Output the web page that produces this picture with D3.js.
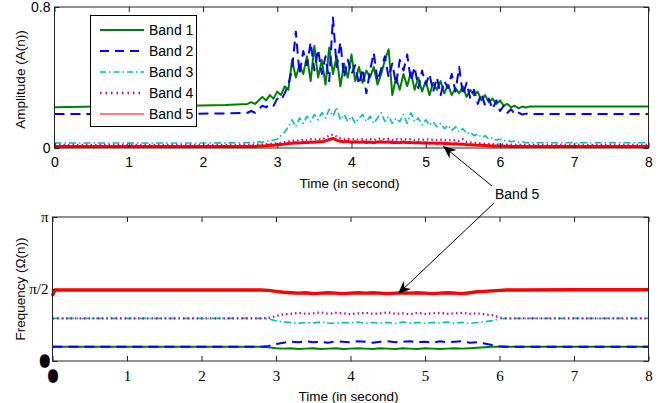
<!DOCTYPE html>
<html>
<head>
<meta charset="utf-8">
<script src="https://cdn.jsdelivr.net/npm/d3@7"></script>
<style>
  html, body { margin: 0; padding: 0; background: #fff; }
  svg { display: block; }
</style>
</head>
<body>
<svg id="chart"></svg>
<script>
const width = 665;
const height = 403;

// band names, colours and dash patterns
const bands = ["Band 1", "Band 2", "Band 3", "Band 4", "Band 5"];
const colors = ["#008000", "#0000ff", "#00bfbf", "#bf00bf", "#ff0000"];

// ---- amplitude panel ----
const tPre = [0, 0.6, 1.2, 1.8, 2.3];
const tPost = [6.6, 7, 7.5, 8];
const tBurst = [
  2.60, 2.65, 2.70, 2.75, 2.80, 2.85, 2.90, 2.95, 3.00, 3.05,
  3.10, 3.15, 3.20, 3.25, 3.30, 3.35, 3.40, 3.45, 3.50, 3.55,
  3.60, 3.65, 3.70, 3.75, 3.80, 3.85, 3.90, 3.95, 4.00, 4.05,
  4.10, 4.15, 4.20, 4.25, 4.30, 4.35, 4.40, 4.45, 4.50, 4.55,
  4.60, 4.65, 4.70, 4.75, 4.80, 4.85, 4.90, 4.95, 5.00, 5.05,
  5.10, 5.15, 5.20, 5.25, 5.30, 5.35, 5.40, 5.45, 5.50, 5.55,
  5.60, 5.65, 5.70, 5.75, 5.80, 5.85, 5.90, 5.95, 6.00, 6.05,
  6.10, 6.15, 6.20, 6.25, 6.30, 6.35, 6.40];

const amp1 = [0.231, 0.236, 0.238, 0.240, 0.244,
  0.25, 0.26, 0.25, 0.27, 0.29, 0.27, 0.30, 0.28, 0.32, 0.30,
  0.35, 0.33, 0.50, 0.40, 0.47, 0.42, 0.52, 0.38, 0.58, 0.40,
  0.50, 0.36, 0.57, 0.42, 0.52, 0.35, 0.48, 0.40, 0.53, 0.38,
  0.46, 0.37, 0.44, 0.40, 0.46, 0.36, 0.42, 0.50, 0.56, 0.30,
  0.40, 0.33, 0.42, 0.35, 0.43, 0.33, 0.40, 0.32, 0.38, 0.30,
  0.37, 0.33, 0.38, 0.31, 0.36, 0.30, 0.34, 0.31, 0.35, 0.29,
  0.33, 0.30, 0.32, 0.27, 0.30, 0.26, 0.28, 0.25, 0.27, 0.24,
  0.25, 0.23, 0.24, 0.225, 0.235, 0.23, 0.235,
  0.235, 0.236, 0.235, 0.235];
const amp2 = [0.193, 0.193, 0.193, 0.194, 0.196,
  0.20, 0.21, 0.20, 0.22, 0.24, 0.23, 0.25, 0.24, 0.28, 0.27,
  0.31, 0.36, 0.45, 0.66, 0.42, 0.55, 0.47, 0.60, 0.44, 0.56,
  0.42, 0.52, 0.38, 0.74, 0.46, 0.60, 0.40, 0.50, 0.42, 0.47,
  0.36, 0.45, 0.31, 0.44, 0.54, 0.38, 0.45, 0.52, 0.40, 0.48,
  0.36, 0.50, 0.44, 0.53, 0.38, 0.46, 0.34, 0.44, 0.36, 0.42,
  0.32, 0.40, 0.30, 0.38, 0.34, 0.42, 0.32, 0.46, 0.30, 0.37,
  0.28, 0.33, 0.25, 0.31, 0.24, 0.28, 0.22, 0.27, 0.21, 0.24,
  0.20, 0.22, 0.19, 0.20, 0.19, 0.195, 0.193,
  0.193, 0.193, 0.193, 0.193];
const amp3 = [0.028, 0.028, 0.028, 0.028, 0.029,
  0.030, 0.032, 0.030, 0.035, 0.033, 0.040, 0.038, 0.045, 0.050, 0.070,
  0.090, 0.120, 0.160, 0.120, 0.170, 0.140, 0.180, 0.150, 0.190, 0.160,
  0.200, 0.170, 0.220, 0.180, 0.230, 0.160, 0.190, 0.150, 0.180, 0.140,
  0.170, 0.190, 0.150, 0.180, 0.140, 0.170, 0.200, 0.150, 0.180, 0.140,
  0.170, 0.150, 0.190, 0.140, 0.200, 0.150, 0.170, 0.130, 0.160, 0.130,
  0.150, 0.120, 0.140, 0.110, 0.130, 0.100, 0.120, 0.090, 0.110, 0.080,
  0.090, 0.070, 0.080, 0.060, 0.070, 0.050, 0.060, 0.045, 0.050, 0.040,
  0.045, 0.035, 0.040, 0.032, 0.035, 0.030, 0.030,
  0.030, 0.030, 0.030, 0.030];
const amp4 = [0.018, 0.018, 0.018, 0.018, 0.018,
  0.018, 0.020, 0.019, 0.021, 0.020, 0.022, 0.024, 0.025, 0.028, 0.030,
  0.034, 0.038, 0.040, 0.045, 0.042, 0.048, 0.044, 0.050, 0.046, 0.052,
  0.048, 0.060, 0.070, 0.077, 0.065, 0.055, 0.050, 0.054, 0.048, 0.052,
  0.046, 0.050, 0.047, 0.052, 0.045, 0.050, 0.055, 0.048, 0.052, 0.045,
  0.050, 0.046, 0.052, 0.047, 0.050, 0.044, 0.048, 0.045, 0.050, 0.046,
  0.048, 0.044, 0.047, 0.043, 0.046, 0.042, 0.045, 0.040, 0.050, 0.035,
  0.032, 0.030, 0.028, 0.026, 0.025, 0.024, 0.023, 0.022, 0.021, 0.020,
  0.020, 0.019, 0.019, 0.018, 0.018, 0.018, 0.018,
  0.018, 0.018, 0.018, 0.018];
const amp5 = [0.008, 0.008, 0.008, 0.008, 0.008,
  0.009, 0.010, 0.009, 0.011, 0.012, 0.013, 0.015, 0.016, 0.018, 0.020,
  0.022, 0.025, 0.027, 0.030, 0.028, 0.032, 0.030, 0.034, 0.032, 0.036,
  0.035, 0.040, 0.048, 0.055, 0.045, 0.038, 0.035, 0.038, 0.033, 0.036,
  0.032, 0.035, 0.031, 0.034, 0.030, 0.034, 0.036, 0.032, 0.035, 0.030,
  0.033, 0.030, 0.034, 0.030, 0.032, 0.029, 0.031, 0.028, 0.030, 0.027,
  0.029, 0.026, 0.028, 0.025, 0.026, 0.023, 0.024, 0.021, 0.022, 0.019,
  0.019, 0.017, 0.016, 0.015, 0.014, 0.013, 0.012, 0.011, 0.011, 0.010,
  0.010, 0.009, 0.009, 0.009, 0.008, 0.008, 0.008,
  0.008, 0.008, 0.008, 0.008];

// ---- frequency panel (radians) ----
const fPre = [0, 0.03, 1, 2, 2.8];
const fPost = [6.3, 7, 8];
const fBurst = [
  2.9, 3.0, 3.1, 3.2, 3.3, 3.4, 3.5, 3.6, 3.7, 3.8,
  3.9, 4.0, 4.1, 4.2, 4.3, 4.4, 4.5, 4.6, 4.7, 4.8,
  4.9, 5.0, 5.1, 5.2, 5.3, 5.4, 5.5, 5.6, 5.7, 5.8,
  5.9, 6.0, 6.1];

const frq1 = [0.31, 0.31, 0.31, 0.31, 0.31,
  0.30, 0.28, 0.27, 0.28, 0.26, 0.27, 0.28, 0.26, 0.27, 0.28,
  0.26, 0.27, 0.28, 0.27, 0.26, 0.28, 0.27, 0.26, 0.28, 0.27,
  0.26, 0.28, 0.27, 0.26, 0.27, 0.28, 0.27, 0.28, 0.29, 0.30,
  0.31, 0.31, 0.31,
  0.31, 0.31, 0.31];
const frq2 = [0.31, 0.31, 0.31, 0.31, 0.31,
  0.33, 0.37, 0.40, 0.42, 0.41, 0.43, 0.41, 0.42, 0.40, 0.43,
  0.42, 0.41, 0.43, 0.42, 0.40, 0.42, 0.43, 0.41, 0.42, 0.43,
  0.41, 0.42, 0.40, 0.43, 0.41, 0.42, 0.43, 0.40, 0.41, 0.38,
  0.35, 0.32, 0.31,
  0.31, 0.31, 0.31];
const frq3 = [0.93, 0.93, 0.93, 0.93, 0.93,
  0.92, 0.88, 0.85, 0.84, 0.82, 0.84, 0.83, 0.85, 0.83, 0.82,
  0.84, 0.83, 0.85, 0.82, 0.84, 0.83, 0.84, 0.82, 0.85, 0.83,
  0.84, 0.82, 0.84, 0.83, 0.85, 0.83, 0.84, 0.82, 0.84, 0.86,
  0.88, 0.92, 0.93,
  0.93, 0.93, 0.93];
const frq4 = [0.93, 0.93, 0.93, 0.93, 0.93,
  0.94, 0.98, 1.02, 1.03, 1.05, 1.03, 1.04, 1.06, 1.03, 1.05,
  1.04, 1.02, 1.04, 1.05, 1.03, 1.04, 1.06, 1.03, 1.04, 1.02,
  1.05, 1.03, 1.04, 1.05, 1.03, 1.04, 1.05, 1.03, 1.04, 1.02,
  1.00, 0.95, 0.93,
  0.93, 0.93, 0.93];
const frq5 = [1.42, 1.55, 1.55, 1.55, 1.55,
  1.54, 1.52, 1.50, 1.49, 1.48, 1.49, 1.47, 1.48, 1.49, 1.48,
  1.47, 1.48, 1.49, 1.48, 1.49, 1.48, 1.47, 1.48, 1.49, 1.48,
  1.49, 1.48, 1.47, 1.48, 1.49, 1.48, 1.47, 1.49, 1.51, 1.52,
  1.53, 1.54, 1.55,
  1.55, 1.555, 1.555];

const xTicks = [0, 1, 2, 3, 4, 5, 6, 7, 8];

const tAmp = tPre.concat(tBurst, tPost);
const tFrq = fPre.concat(fBurst, fPost);
const ampSeries = [amp1, amp2, amp3, amp4, amp5];
const frqSeries = [frq1, frq2, frq3, frq4, frq5];

// line styles per band (plot)
const styles = [
  { w: 2, dash: null },
  { w: 2, dash: "10,6" },
  { w: 1.6, dash: "7,3,1.5,3" },
  { w: 2.2, dash: "1.5,3" },
  { w: 3, dash: null }
];

const svg = d3.select("#chart")
    .attr("width", width)
    .attr("height", height)
    .attr("viewBox", [0, 0, width, height]);

const sans = "'Liberation Sans', Arial, sans-serif";
const serif = "'Liberation Serif', 'Times New Roman', serif";

// ============ top panel ============
const topBox = { l: 54.5, r: 648.5, t: 7, b: 148 };
const x1 = d3.scaleLinear().domain([0, 8]).range([topBox.l, topBox.r]);
const y1 = d3.scaleLinear().domain([0, 0.8]).range([topBox.b, topBox.t]);

const gTop = svg.append("g");

const lineTop = (vals) => d3.line()
    .x((d, i) => x1(tAmp[i]))
    .y(d => y1(d))(vals);

ampSeries.forEach((vals, k) => {
  gTop.append("path")
      .attr("d", lineTop(vals))
      .attr("fill", "none")
      .attr("stroke", colors[k])
      .attr("stroke-width", styles[k].w)
      .attr("stroke-dasharray", styles[k].dash)
      .attr("stroke-linejoin", "round");
});

function boxAxes(g, x, y, box, yTicks, yFormat, xFont, yFont, fs) {
  // frame
  g.append("rect")
      .attr("x", box.l).attr("y", box.t)
      .attr("width", box.r - box.l).attr("height", box.b - box.t)
      .attr("fill", "none").attr("stroke", "#222").attr("stroke-width", 1);

  const ax = g.append("g").attr("transform", `translate(0,${box.b})`)
      .call(d3.axisBottom(x).tickValues(xTicks).tickSizeInner(-5).tickSizeOuter(0).tickPadding(9).tickFormat(d3.format("d")));
  ax.select(".domain").remove();
  ax.selectAll("line").attr("stroke", "#222");
  ax.selectAll("text").attr("font-family", xFont).attr("font-size", fs).attr("fill", "#000");

  const axT = g.append("g").attr("transform", `translate(0,${box.t})`)
      .call(d3.axisTop(x).tickValues(xTicks).tickSizeInner(-5).tickSizeOuter(0).tickFormat(""));
  axT.select(".domain").remove();
  axT.selectAll("line").attr("stroke", "#222");

  const ay = g.append("g").attr("transform", `translate(${box.l},0)`)
      .call(d3.axisLeft(y).tickValues(yTicks).tickSizeInner(-5).tickSizeOuter(0).tickPadding(4).tickFormat(yFormat));
  ay.select(".domain").remove();
  ay.selectAll("line").attr("stroke", "#222");
  ay.selectAll("text").attr("font-family", yFont).attr("font-size", fs).attr("fill", "#000");

  const ayR = g.append("g").attr("transform", `translate(${box.r},0)`)
      .call(d3.axisRight(y).tickValues(yTicks).tickSizeInner(-5).tickSizeOuter(0).tickFormat(""));
  ayR.select(".domain").remove();
  ayR.selectAll("line").attr("stroke", "#222");
  return { ax, ay };
}

boxAxes(gTop, x1, y1, topBox, [0, 0.8], d => d === 0 ? "0" : "0.8", sans, sans, 14);

gTop.append("text")
    .attr("x", (topBox.l + topBox.r) / 2 - 2).attr("y", 188)
    .attr("text-anchor", "middle")
    .attr("font-family", sans).attr("font-size", 13.5)
    .text("Time (in second)");

gTop.append("text")
    .attr("transform", `translate(25,${(topBox.t + topBox.b) / 2 + 2}) rotate(-90)`)
    .attr("text-anchor", "middle")
    .attr("font-family", sans).attr("font-size", 13.5)
    .text("Amplitude (A(n))");

// legend
const leg = gTop.append("g");
leg.append("rect")
    .attr("x", 90.5).attr("y", 15.5).attr("width", 106).attr("height", 111)
    .attr("fill", "#fff").attr("stroke", "#000").attr("stroke-width", 1);
const legStyles = [
  { w: 2, dash: null },
  { w: 2, dash: "9,6" },
  { w: 1.4, dash: "6,3,1.5,3" },
  { w: 2.4, dash: "1.5,4" },
  { w: 1.2, dash: null }
];
bands.forEach((name, k) => {
  const yy = 30 + k * 21;
  leg.append("line")
      .attr("x1", 100).attr("x2", 144).attr("y1", yy).attr("y2", yy)
      .attr("stroke", colors[k])
      .attr("stroke-width", legStyles[k].w)
      .attr("stroke-dasharray", legStyles[k].dash);
  leg.append("text")
      .attr("x", 149).attr("y", yy + 5)
      .attr("font-family", sans).attr("font-size", 14)
      .text(name);
});

// ============ bottom panel ============
const botBox = { l: 52.5, r: 648.5, t: 217, b: 361 };
const x2 = d3.scaleLinear().domain([0, 8]).range([botBox.l, botBox.r]);
const y2 = d3.scaleLinear().domain([0, Math.PI]).range([botBox.b, botBox.t]);

const gBot = svg.append("g");

const lineBot = (vals) => d3.line()
    .x((d, i) => x2(tFrq[i]))
    .y(d => y2(d))(vals);

frqSeries.forEach((vals, k) => {
  gBot.append("path")
      .attr("d", lineBot(vals))
      .attr("fill", "none")
      .attr("stroke", colors[k])
      .attr("stroke-width", k === 4 ? 3.4 : styles[k].w)
      .attr("stroke-dasharray", styles[k].dash)
      .attr("stroke-linejoin", "round");
});

const piFmt = d => d === 0 ? "0" : (Math.abs(d - Math.PI) < 1e-6 ? "\u03c0" : "\u03c0/2");
const axes2 = boxAxes(gBot, x2, y2, botBox, [0, Math.PI / 2, Math.PI], piFmt, serif, serif, 15);

// the "0" labels of this panel print as solid blobs
axes2.ax.selectAll("text").filter(d => d === 0)
    .attr("stroke", "#000").attr("stroke-width", 3.5).attr("font-weight", "bold");
axes2.ay.selectAll("text").filter(d => d === 0)
    .attr("stroke", "#000").attr("stroke-width", 3.5).attr("font-weight", "bold");

gBot.append("text")
    .attr("x", (botBox.l + botBox.r) / 2 - 2).attr("y", 401)
    .attr("text-anchor", "middle")
    .attr("font-family", sans).attr("font-size", 13.5)
    .text("Time (in second)");

gBot.append("text")
    .attr("transform", `translate(25,${(botBox.t + botBox.b) / 2}) rotate(-90)`)
    .attr("text-anchor", "middle")
    .attr("font-family", sans).attr("font-size", 13.5)
    .text("Frequency (\u03a9(n))");

// ============ annotation ============
const ann = svg.append("g");
ann.append("text")
    .attr("x", 495).attr("y", 199)
    .attr("font-family", sans).attr("font-size", 14)
    .text("Band 5");

function arrow(xs, ys, xe, ye) {
  ann.append("line")
      .attr("x1", xs).attr("y1", ys).attr("x2", xe).attr("y2", ye)
      .attr("stroke", "#000").attr("stroke-width", 1);
  const a = Math.atan2(ye - ys, xe - xs);
  const L = 13, W = 5.5, N = 9;
  const pt = (d, s) => [xe - d * Math.cos(a) - s * Math.sin(a), ye - d * Math.sin(a) + s * Math.cos(a)];
  const p = [[xe, ye], pt(L, W), pt(N, 0), pt(L, -W)];
  ann.append("path")
      .attr("d", "M" + p.map(q => q.join(",")).join("L") + "Z")
      .attr("fill", "#000");
}
arrow(492, 186, 443, 146);
arrow(494, 203, 398, 294);
</script>
</body>
</html>
